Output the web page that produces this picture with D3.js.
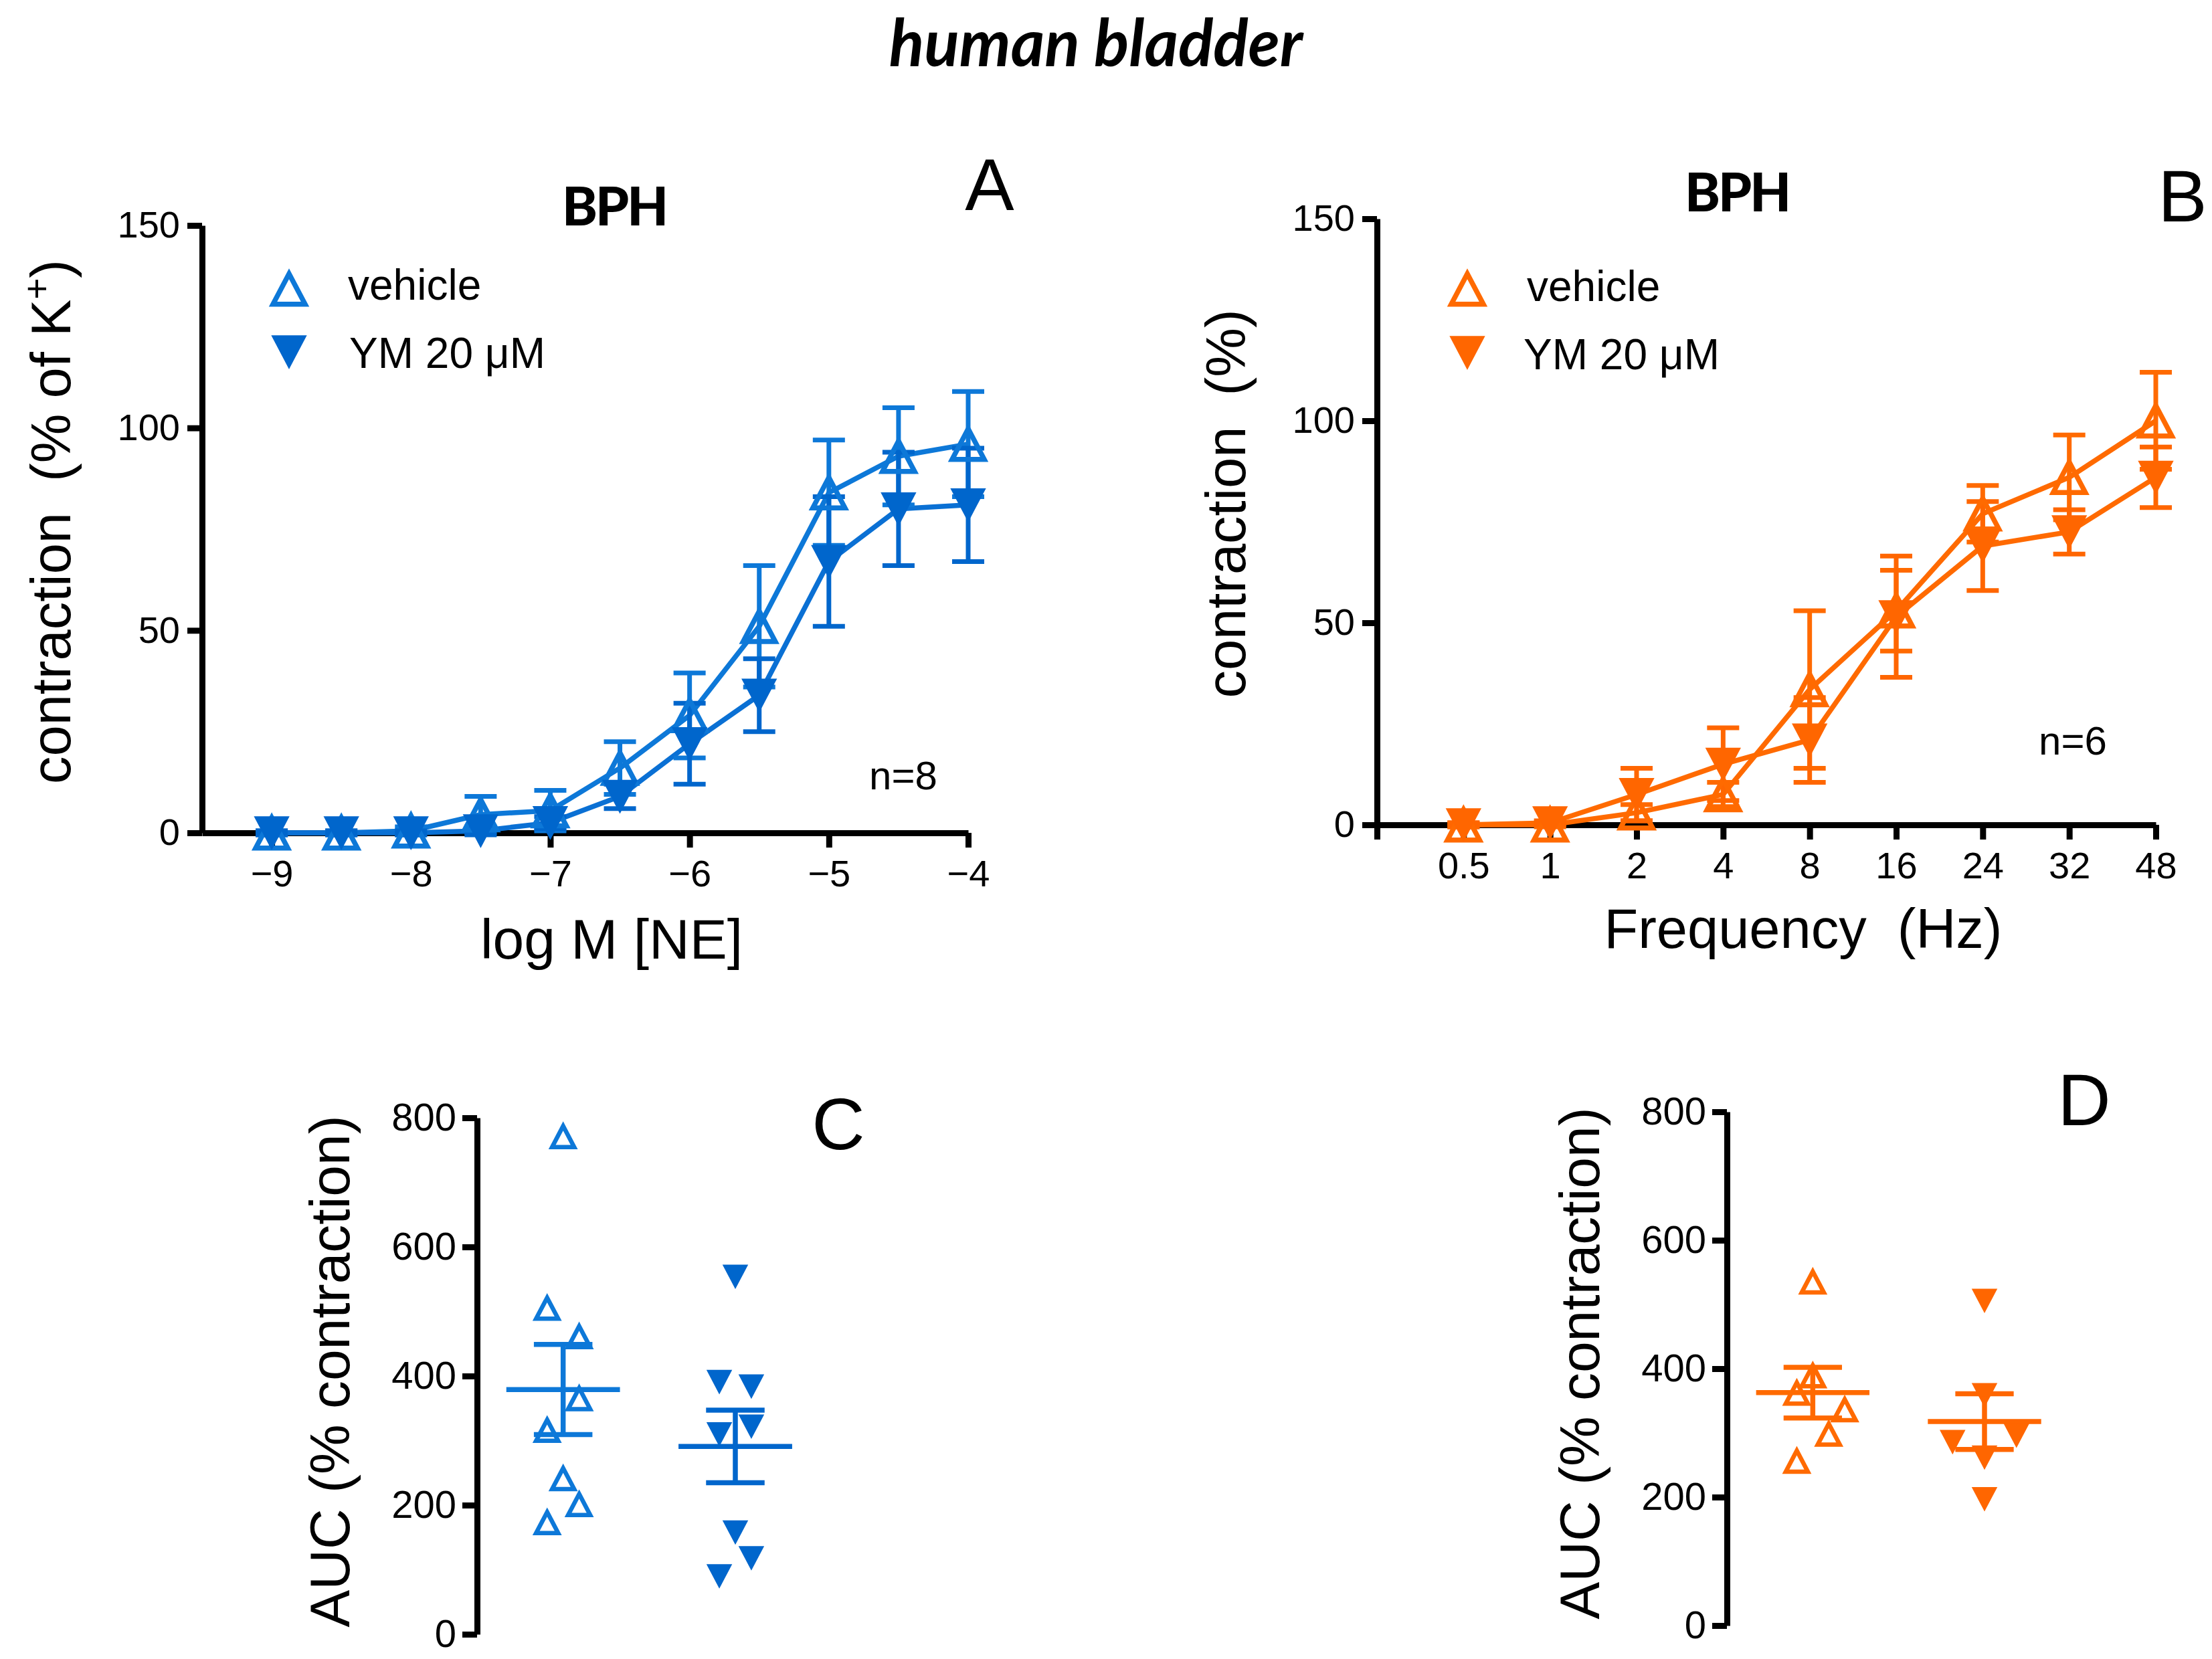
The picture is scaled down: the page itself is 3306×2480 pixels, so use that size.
<!DOCTYPE html>
<html><head><meta charset="utf-8">
<script src="https://cdn.jsdelivr.net/npm/d3@7"></script>
<style>
html,body{margin:0;padding:0;background:#fff;}
text{font-family:"Liberation Sans",Arial,sans-serif;white-space:pre;}
</style>
</head><body>
<script>
// ---------------- DATA ----------------
const concLogM      = [-9, -8.5, -8, -7.5, -7, -6.5, -6, -5.5, -5, -4.5, -4];
const aVehicleMean  = [0, 0, 0.5, 4.5, 5.5, 16, 29, 51, 84, 93, 96];
const aVehicleSEM   = [0.5, 0.5, 1, 4.5, 5, 6.5, 10.5, 15, 13, 12, 13];
const aYMMean       = [0, 0, 0, 0.5, 2.5, 9, 22, 34, 67, 80, 81];
const aYMSEM        = [0.5, 0.5, 0.5, 1, 1.5, 3, 10, 9, 16, 14, 14];
const logTicks      = [-9, -8, -7, -6, -5, -4];

const freqLabels    = ["0.5", "1", "2", "4", "8", "16", "24", "32", "48"];
const bVehicleMean  = [0, 0, 3, 7.5, 33.5, 53, 77, 86, 100];
const bVehicleSEM   = [0.5, 0.5, 2, 3, 19.5, 10, 7, 10.5, 12];
const bYMMean       = [0, 0.5, 7.5, 15, 21, 51.5, 69, 72.5, 86];
const bYMSEM        = [0.5, 0.5, 6.5, 9, 10.5, 15, 11, 5.5, 7.5];

const curveYTicks   = [0, 50, 100, 150];
const aucYTicks     = [0, 200, 400, 600, 800];

const cVehicleAUC   = [771, 505, 461, 365, 316, 241, 201, 173];
const cVehicleSlot  = [0, -1, 1, 1, -1, 0, 1, -1];
const cYMAUC        = [554, 391, 384, 322, 310, 158, 118, 90];
const cYMSlot       = [0, -1, 1, 1, -1, 0, 1, -1];

const dVehicleAUC   = [535, 389, 362, 336, 298, 256];
const dVehicleSlot  = [0, 0, -1, 2, 1, -1];
const dYMAUC        = [506, 359, 286, 296, 262, 197];
const dYMSlot       = [0, 0, -2, 2, 0, 0];

const seriesLabels  = ["vehicle", "YM 20 μM"];

// ---------------- STYLE ----------------
const BLUE_V = "#0d78d8", BLUE_Y = "#0066cc";
const ORANGE_V = "#ff6a00", ORANGE_Y = "#ff6600";
const AXW = 9;

const svg = d3.select("body").append("svg")
  .attr("width", 3306).attr("height", 2480)
  .attr("viewBox", "0 0 3306 2480");

// custom triangle symbol types (bbox-centred)
const triUp = { draw(ctx, size) { const w = Math.sqrt(size), h = w * 0.95;
  ctx.moveTo(0, -h / 2); ctx.lineTo(w / 2, h / 2); ctx.lineTo(-w / 2, h / 2); ctx.closePath(); } };
const triDown = { draw(ctx, size) { const w = Math.sqrt(size), h = w * 0.95;
  ctx.moveTo(0, h / 2); ctx.lineTo(w / 2, -h / 2); ctx.lineTo(-w / 2, -h / 2); ctx.closePath(); } };

function styleAxis(g, fs) {
  g.attr("font-family", null).attr("font-size", null);
  g.selectAll(".domain").attr("stroke", "#000").attr("stroke-width", AXW);
  g.selectAll(".tick line").attr("stroke", "#000").attr("stroke-width", AXW);
  g.selectAll(".tick text").attr("fill", "#000")
    .style("font-family", '"Liberation Sans",Arial,sans-serif').style("font-size", fs + "px");
}

function addText(txt, x, y, opts = {}) {
  const t = svg.append("text").attr("x", x).attr("y", y)
    .attr("text-anchor", opts.anchor || "middle")
    .style("font-size", (opts.size || 60) + "px")
    .attr("fill", "#000").text(txt);
  if (opts.family) t.style("font-family", opts.family);
  if (opts.weight) t.style("font-weight", opts.weight);
  if (opts.italic) t.style("font-style", "italic");
  if (opts.ls) t.style("letter-spacing", opts.ls + "px");
  return t;
}
function addRotText(x, y, size) {
  return svg.append("text").attr("transform", `translate(${x},${y}) rotate(-90)`)
    .attr("text-anchor", "middle").style("font-size", size + "px").attr("fill", "#000");
}

// ---------------- CURVE PANELS ----------------
const HOLLOW_W = 48, FILLED_W = 50;
function curvePanel(p) {
  const g = svg.append("g");
  const x = p.x, y = p.y;
  const yAx = g.append("g").attr("transform", `translate(${x.range()[0]},0)`)
    .call(d3.axisLeft(y).tickValues(curveYTicks).tickSize(22).tickPadding(11).tickSizeOuter(0));
  styleAxis(yAx, 56);
  const xAx = g.append("g").attr("transform", `translate(0,${y(0)})`)
    .call(d3.axisBottom(x).tickValues(p.xTicks).tickFormat(p.xFormat).tickSize(22).tickPadding(18).tickSizeOuter(0));
  styleAxis(xAx, 56);

  const series = [
    { xs: p.xs, m: p.vMean, s: p.vSEM, color: p.cV, type: triUp, hollow: true },
    { xs: p.xs, m: p.yMean, s: p.ySEM, color: p.cY, type: triDown, hollow: false }
  ];
  const line = d3.line().x(d => x(d.x)).y(d => y(d.m));
  series.forEach(s => {
    s.pts = s.xs.map((xv, i) => ({ x: xv, m: s.m[i], s: s.s[i] }));
    g.append("path").datum(s.pts).attr("d", line)
      .attr("fill", "none").attr("stroke", p.cLine(s)).attr("stroke-width", 7.5).attr("stroke-linejoin", "round");
  });
  series.forEach(s => {
    const eb = g.append("g").attr("stroke", s.color).attr("stroke-width", 7);
    eb.selectAll("line.v").data(s.pts).join("line")
      .attr("x1", d => x(d.x)).attr("x2", d => x(d.x))
      .attr("y1", d => y(d.m + d.s)).attr("y2", d => y(d.m - d.s));
    eb.selectAll("line.t").data(s.pts).join("line")
      .attr("x1", d => x(d.x) - 24).attr("x2", d => x(d.x) + 24)
      .attr("y1", d => y(d.m + d.s)).attr("y2", d => y(d.m + d.s));
    eb.selectAll("line.b").data(s.pts).join("line")
      .attr("x1", d => x(d.x) - 24).attr("x2", d => x(d.x) + 24)
      .attr("y1", d => y(d.m - d.s)).attr("y2", d => y(d.m - d.s));
  });
  series.forEach(s => {
    const sym = d3.symbol().type(s.type).size(s.hollow ? HOLLOW_W * HOLLOW_W : FILLED_W * FILLED_W);
    g.selectAll(null).data(s.pts).join("path")
      .attr("transform", d => `translate(${x(d.x)},${y(d.m)})`)
      .attr("d", sym)
      .attr("fill", s.hollow ? "none" : s.color)
      .attr("stroke", s.color).attr("stroke-width", s.hollow ? 7.5 : 2)
      .attr("stroke-linejoin", "miter");
  });
  // legend
  const lg = svg.append("g");
  const legendSeries = [{ type: triUp, hollow: true, color: p.cV }, { type: triDown, hollow: false, color: p.cY }];
  legendSeries.forEach((s, i) => {
    const sym = d3.symbol().type(s.type).size(s.hollow ? HOLLOW_W * HOLLOW_W : FILLED_W * FILLED_W);
    lg.append("path").attr("transform", `translate(${p.legX},${p.legY[i]})`).attr("d", sym)
      .attr("fill", s.hollow ? "none" : s.color).attr("stroke", s.color)
      .attr("stroke-width", s.hollow ? 7.5 : 2);
    addText(seriesLabels[i], p.legTX[i], p.legTY[i], { anchor: "start", size: 64 });
  });
}

// Panel A
const xA = d3.scaleLinear().domain([-9.5, -4]).range([302, 1447]);
const yA = d3.scaleLinear().domain([0, 150]).range([1245, 337]);
curvePanel({
  x: xA, y: yA, xs: concLogM, xTicks: logTicks, xFormat: d3.format("d"),
  vMean: aVehicleMean, vSEM: aVehicleSEM, yMean: aYMMean, ySEM: aYMSEM,
  cV: BLUE_V, cY: BLUE_Y, cLine: s => (s.hollow ? BLUE_V : "#0a70d4"),
  legX: 432, legY: [432, 526], legTX: [520, 522], legTY: [448, 550]
});
// Panel B (categorical frequency axis)
const xB = d3.scaleLinear().domain([-1, 8]).range([2058, 3222]);
const yB = d3.scaleLinear().domain([0, 150]).range([1233, 327]);
curvePanel({
  x: xB, y: yB, xs: freqLabels.map((_, i) => i), xTicks: d3.range(-1, freqLabels.length),
  xFormat: i => (i < 0 ? "" : freqLabels[i]),
  vMean: bVehicleMean, vSEM: bVehicleSEM, yMean: bYMMean, ySEM: bYMSEM,
  cV: ORANGE_V, cY: ORANGE_Y, cLine: s => ORANGE_V,
  legX: 2193, legY: [432, 527], legTX: [2282, 2277], legTY: [450, 552]
});

// ---------------- AUC PANELS ----------------
function aucPanel(p) {
  const g = svg.append("g");
  const x = p.x, y = p.y;
  const yAx = g.append("g").attr("transform", `translate(${x(-0.5)},0)`)
    .call(d3.axisLeft(y).tickValues(aucYTicks).tickSize(22).tickPadding(9).tickSizeOuter(0));
  styleAxis(yAx, 58);
  const groups = [
    { vals: p.vVals, slots: p.vSlots, type: triUp, hollow: true, color: p.cV },
    { vals: p.yVals, slots: p.ySlots, type: triDown, hollow: false, color: p.cY }
  ];
  groups.forEach((grp, gi) => {
    const pts = grp.vals.map((v, i) => ({ v, xi: gi + grp.slots[i] * 0.093 }));
    const sym = d3.symbol().type(grp.type).size(grp.hollow ? 33 * 33 : 36 * 36);
    g.selectAll(null).data(pts).join("path")
      .attr("transform", d => `translate(${x(d.xi)},${y(d.v)})`)
      .attr("d", sym)
      .attr("fill", grp.hollow ? "none" : grp.color)
      .attr("stroke", grp.color).attr("stroke-width", grp.hollow ? 6.5 : 1.5)
      .attr("stroke-linejoin", "miter");
    const mean = d3.mean(grp.vals);
    const sem = d3.deviation(grp.vals) / Math.sqrt(grp.vals.length);
    const stats = [{ gi, mean, sem }];
    const sg = g.append("g").attr("stroke", grp.color).attr("stroke-width", 7.5);
    sg.selectAll("line.mean").data(stats).join("line")
      .attr("x1", d => x(d.gi - 0.33)).attr("x2", d => x(d.gi + 0.33))
      .attr("y1", d => y(d.mean)).attr("y2", d => y(d.mean));
    sg.selectAll("line.v").data(stats).join("line")
      .attr("x1", d => x(d.gi)).attr("x2", d => x(d.gi))
      .attr("y1", d => y(d.mean + d.sem)).attr("y2", d => y(d.mean - d.sem));
    sg.selectAll("line.c1").data(stats).join("line")
      .attr("x1", d => x(d.gi - 0.17)).attr("x2", d => x(d.gi + 0.17))
      .attr("y1", d => y(d.mean + d.sem)).attr("y2", d => y(d.mean + d.sem));
    sg.selectAll("line.c2").data(stats).join("line")
      .attr("x1", d => x(d.gi - 0.17)).attr("x2", d => x(d.gi + 0.17))
      .attr("y1", d => y(d.mean - d.sem)).attr("y2", d => y(d.mean - d.sem));
  });
}
const xC = d3.scaleLinear().domain([-0.5, 1]).range([713, 1099]);
const yC = d3.scaleLinear().domain([0, 800]).range([2443, 1671]);
aucPanel({ x: xC, y: yC, vVals: cVehicleAUC, vSlots: cVehicleSlot, yVals: cYMAUC, ySlots: cYMSlot, cV: BLUE_V, cY: BLUE_Y });
const xD = d3.scaleLinear().domain([-0.5, 1]).range([2581, 2966]);
const yD = d3.scaleLinear().domain([0, 800]).range([2430, 1662]);
aucPanel({ x: xD, y: yD, vVals: dVehicleAUC, vSlots: dVehicleSlot, yVals: dYMAUC, ySlots: dYMSlot, cV: ORANGE_V, cY: ORANGE_Y });

// ---------------- TEXTS ----------------
addText("human bladder", 1638, 99, { size: 97, family: "Lato, sans-serif", weight: 700, italic: true });
addText("BPH", 918, 337, { size: 80, family: "Lato, sans-serif", weight: 900, ls: -3 });
addText("BPH", 2596, 316, { size: 80, family: "Lato, sans-serif", weight: 900, ls: -3 });
addText("A", 1479, 314, { size: 110 });
addText("B", 3262, 331, { size: 110 });
addText("C", 1253, 1718, { size: 110 });
addText("D", 3115, 1682, { size: 110 });
addText("n=8", 1350, 1180, { size: 60 });
addText("n=6", 3098, 1128, { size: 60 });
addText("log M [NE]", 914, 1433, { size: 84 });
addText("Frequency  (Hz)", 2695, 1417, { size: 83 });

const ta = addRotText(105, 780, 83);
ta.append("tspan").text("contraction  (% of K");
ta.append("tspan").attr("baseline-shift", "super").style("font-size", "55px").text("+");
ta.append("tspan").text(")");
addRotText(1861, 753, 83).text("contraction  (%)");
addRotText(522, 2050, 84).text("AUC (% contraction)");
addRotText(2390, 2038, 84).text("AUC (% contraction)");
</script>
</body></html>
